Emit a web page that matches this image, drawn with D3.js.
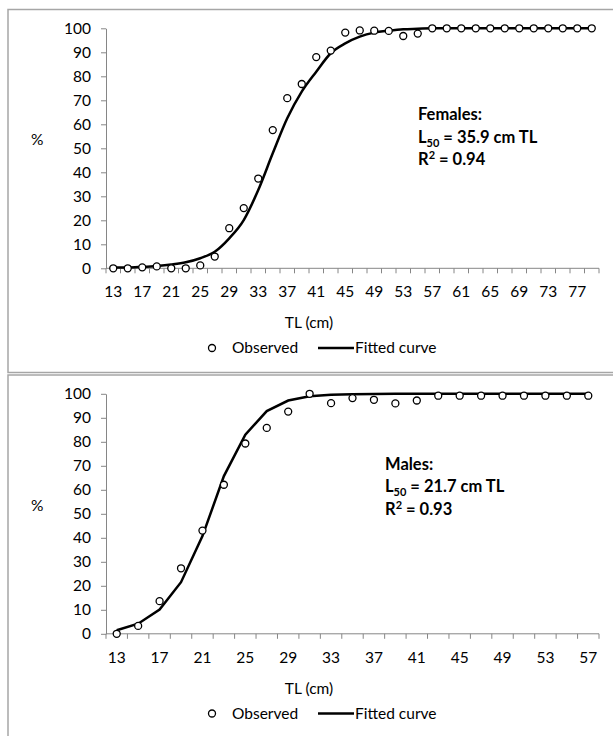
<!DOCTYPE html>
<html lang="en">
<head>
<meta charset="UTF-8">
<title>Maturity ogives</title>
<style>
    body { margin: 0; background: #fff; }
    svg { display: block; font-family: Lato, "Open Sans", Arial, sans-serif; }
    .axis path, .axis line { stroke: #868686; }
    .tick-label { font-size: 15.5px; fill: #000; }
    .note { font-size: 16.5px; font-weight: bold; fill: #000; }
</style>
</head>
<body>
<svg width="613" height="736"></svg>
<script src="https://d3js.org/d3.v7.min.js"></script>
<script>
// Females
const femaleTL = [13,15,17,19,21,23,25,27,29,31,33,35,37,39,41,43,45,47,49,51,53,55,57,59,61,63,65,67,69,71,73,75,77,79];
const femaleObserved = [0,0,0.4,0.8,0,0,1.2,4.9,16.7,25.1,37.4,57.6,70.9,76.8,88,90.7,98.2,99.1,99,98.9,96.8,97.8,100,100,100,100,100,100,100,100,100,100,100,100];
const femaleFitted = [0.3,0.3,0.6,1,1.6,2.5,4.2,6.9,12.5,20.1,32.6,47.9,62.5,73.6,81.9,89.6,93.7,96.5,98.2,99,99.6,99.8,100,100,100,100,100,100,100,100,100,100,100,100];

// Males
const maleTL = [13,15,17,19,21,23,25,27,29,31,33,35,37,39,41,43,45,47,49,51,53,55,57];
const maleObserved = [0,3.3,13.6,27.3,43,62.1,79.3,85.8,92.6,100,96.1,98.2,97.5,96,97.2,99.2,99.2,99.2,99.2,99.2,99.2,99.2,99.2];
const maleFitted = [1.5,4.2,10.1,21.5,40.7,65.7,83,92.8,97.2,99,99.6,99.8,99.9,100,100,100,100,100,100,100,100,100,100];

const yTicks = [0,10,20,30,40,50,60,70,80,90,100];

const svg = d3.select("svg");

function drawPanel(oy, frameH, tl, observed, fitted, smooth, note, noteX, noteY) {
    const g = svg.append("g").attr("transform", `translate(0,${oy})`);

    // frame
    g.append("rect")
        .attr("x", 8).attr("y", 9.5)
        .attr("width", 640).attr("height", frameH)
        .attr("fill", "none")
        .attr("stroke", "#a6a6a6")
        .attr("stroke-width", 1.5);

    const x = d3.scaleBand().domain(tl).range([106, 599]).paddingInner(0).paddingOuter(0);
    const y = d3.scaleLinear().domain([0, 100]).range([268.3, 28.3]);
    const cx = d => x(d) + x.bandwidth() / 2;

    // y axis
    g.append("g")
        .attr("class", "axis")
        .attr("transform", "translate(106,0)")
        .call(d3.axisLeft(y).tickValues(yTicks).tickSize(5).tickSizeOuter(0).tickFormat(""));
    g.selectAll(".ylab").data(yTicks).join("text")
        .attr("class", "tick-label")
        .attr("x", 91).attr("y", d => y(d))
        .attr("dy", "0.35em")
        .attr("text-anchor", "end")
        .text(d => d);

    // x axis: ticks between categories, labels every other category
    g.append("line")
        .attr("x1", 106).attr("x2", 599)
        .attr("y1", y(0)).attr("y2", y(0))
        .attr("stroke", "#868686");
    const bounds = tl.map(d => x(d)).concat([x.range()[1]]);
    g.selectAll(".xtick").data(bounds).join("line")
        .attr("x1", d => d).attr("x2", d => d)
        .attr("y1", y(0)).attr("y2", y(0) + 5)
        .attr("stroke", "#868686");
    g.selectAll(".xlab").data(tl.filter((d, i) => i % 2 === 0)).join("text")
        .attr("class", "tick-label")
        .attr("x", d => cx(d)).attr("y", 292)
        .attr("dy", "0.35em")
        .attr("text-anchor", "middle")
        .text(d => d);

    g.append("text").attr("class", "tick-label")
        .attr("x", 31).attr("y", 140).attr("dy", "0.35em")
        .text("%");
    g.append("text").attr("class", "tick-label")
        .attr("x", 309).attr("y", 323).attr("dy", "0.35em")
        .attr("text-anchor", "middle")
        .text("TL (cm)");

    // fitted curve
    const line = d3.line()
        .x((d, i) => cx(tl[i]))
        .y(d => y(d))
        .curve(smooth ? d3.curveMonotoneX : d3.curveLinear);
    g.append("path")
        .datum(fitted)
        .attr("d", line)
        .attr("fill", "none")
        .attr("stroke", "#000")
        .attr("stroke-width", 2.5);

    // observed points
    g.selectAll(".obs").data(observed).join("circle")
        .attr("cx", (d, i) => cx(tl[i]))
        .attr("cy", d => y(d))
        .attr("r", 3.5)
        .attr("fill", "#fff")
        .attr("stroke", "#000")
        .attr("stroke-width", 1.3);

    // legend
    g.append("circle")
        .attr("cx", 212).attr("cy", 348).attr("r", 3.5)
        .attr("fill", "#fff").attr("stroke", "#000").attr("stroke-width", 1.3);
    g.append("text").attr("class", "tick-label")
        .attr("x", 232).attr("y", 348).attr("dy", "0.35em")
        .text("Observed");
    g.append("line")
        .attr("x1", 318).attr("x2", 354)
        .attr("y1", 348).attr("y2", 348)
        .attr("stroke", "#000").attr("stroke-width", 2.5);
    g.append("text").attr("class", "tick-label")
        .attr("x", 355).attr("y", 348).attr("dy", "0.35em")
        .text("Fitted curve");

    // annotation
    const t1 = g.append("text").attr("class", "note").attr("x", noteX).attr("y", noteY);
    t1.text(note[0]);
    const t2 = g.append("text").attr("class", "note").attr("x", noteX).attr("y", noteY + 22.5);
    t2.append("tspan").text("L");
    t2.append("tspan").attr("dy", 4).attr("font-size", 11).text("50");
    t2.append("tspan").attr("dy", -4).text(" = " + note[1]);
    const t3 = g.append("text").attr("class", "note").attr("x", noteX).attr("y", noteY + 45);
    t3.append("tspan").text("R");
    t3.append("tspan").attr("dy", -6).attr("font-size", 11).text("2");
    t3.append("tspan").attr("dy", 6).text(" = " + note[2]);
}

drawPanel(0, 363, femaleTL, femaleObserved, femaleFitted, true,
    ["Females:", "35.9 cm TL", "0.94"], 418, 120);
drawPanel(365.5, 400, maleTL, maleObserved, maleFitted, false,
    ["Males:", "21.7 cm TL", "0.93"], 385, 104);
</script>
</body>
</html>
